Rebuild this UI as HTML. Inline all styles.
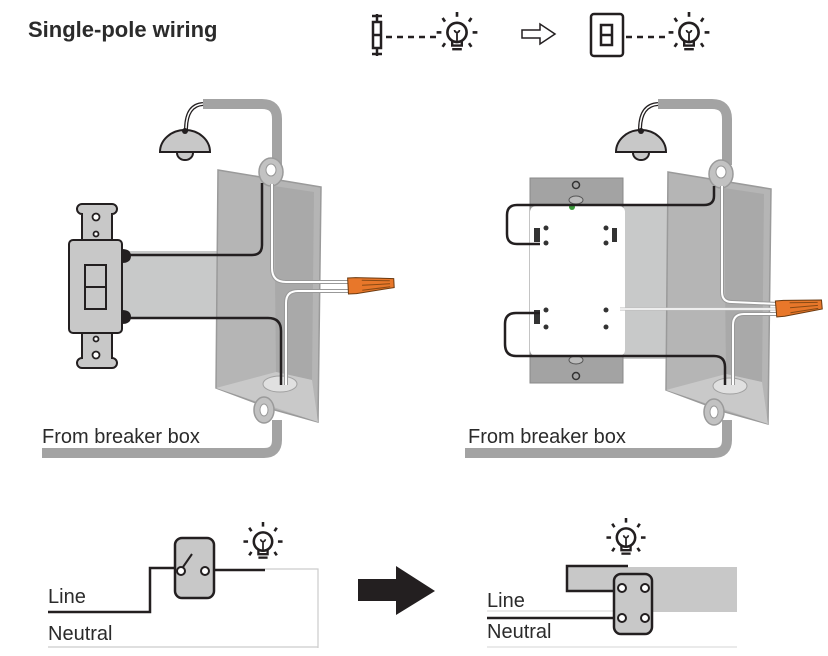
<!DOCTYPE html>
<html><head><meta charset="utf-8"><style>
html,body{margin:0;padding:0;background:#fff;width:828px;height:656px;overflow:hidden}
svg{display:block}
text{font-family:"Liberation Sans",sans-serif;fill:#2b2b2b}
</style></head><body>
<svg width="828" height="656" viewBox="0 0 828 656" xmlns="http://www.w3.org/2000/svg">
<defs>
<g id="bulb">
  <circle cx="0" cy="-3" r="8" fill="#fff" stroke="#231f20" stroke-width="2.2"/>
  <path d="M-4,4 L-4,8 L4,8 L4,4" fill="none" stroke="#231f20" stroke-width="2"/>
  <line x1="-4" y1="11" x2="4" y2="11" stroke="#231f20" stroke-width="2"/>
  <path d="M0,4 L0,-3 M-2,-5 a2,2 0 1,0 4,0" fill="none" stroke="#231f20" stroke-width="1.5"/>
  <g stroke="#231f20" stroke-width="2.2">
    <line x1="0" y1="-20" x2="0" y2="-16"/>
    <line x1="-12" y1="-15" x2="-10" y2="-12"/>
    <line x1="12" y1="-15" x2="10" y2="-12"/>
    <line x1="-17" y1="-3" x2="-13" y2="-3"/>
    <line x1="17" y1="-3" x2="13" y2="-3"/>
    <line x1="-12" y1="9" x2="-10" y2="6"/>
    <line x1="12" y1="9" x2="10" y2="6"/>
  </g>
</g>
<g id="lamp">
  <path d="M-25,0 A25,22 0 0,1 25,0 Z" fill="#c8c8c8" stroke="#231f20" stroke-width="2"/>
  <path d="M-8,1 A8,7 0 0,0 8,1" fill="#c8c8c8" stroke="#231f20" stroke-width="2"/>
  <circle cx="0" cy="-21" r="3" fill="#231f20"/>
</g>
<g id="box">
  <polygon points="0,0 103,17 100,252 57,240 -2,218" fill="#b5b5b5" stroke="#9a9a9a" stroke-width="1.5"/>
  <polygon points="56,16 96,22 94,210 58,202" fill="#a9a9a9"/>
  <polygon points="-2,218 58,202 94,210 100,252" fill="#c9c9c9"/>
  <ellipse cx="53" cy="2" rx="12" ry="14" fill="#c2c2c2" stroke="#9a9a9a" stroke-width="1.5"/>
  <ellipse cx="53" cy="0" rx="5" ry="6" fill="#fff" stroke="#999"/>
  <ellipse cx="46" cy="240" rx="10" ry="13" fill="#c2c2c2" stroke="#9a9a9a" stroke-width="1.5"/>
  <ellipse cx="46" cy="240" rx="4" ry="6" fill="#fff" stroke="#999"/>
  <ellipse cx="62" cy="214" rx="17" ry="8" fill="#e0e0e0" stroke="#a0a0a0"/>
</g>
<g id="nut">
  <polygon points="0,-7 8,-7 46,-4 46,5 8,9 0,9" fill="#e8772a" stroke="#6b3a10" stroke-width="1"/>
  <line x1="14" y1="-4" x2="42" y2="-2" stroke="#8a4a14"/>
  <line x1="14" y1="1" x2="42" y2="1" stroke="#8a4a14"/>
  <line x1="14" y1="6" x2="42" y2="4" stroke="#8a4a14"/>
</g>
</defs>

<!-- Header -->
<text x="28" y="37" font-size="22" font-weight="bold" fill="#222">Single-pole  wiring</text>
<g stroke="#231f20" stroke-width="2.5" fill="none">
  <rect x="373" y="22" width="8" height="26"/>
  <line x1="373" y1="35" x2="381" y2="35"/>
  <line x1="377" y1="14" x2="377" y2="22"/><line x1="377" y1="48" x2="377" y2="56"/>
  <line x1="372" y1="16" x2="382" y2="16"/><line x1="372" y1="54" x2="382" y2="54"/>
  <line x1="386" y1="37" x2="438" y2="37" stroke-dasharray="6,5"/>
  <rect x="591" y="14" width="32" height="42" rx="3"/>
  <rect x="601" y="25" width="11" height="20"/>
  <line x1="601" y1="35" x2="612" y2="35"/>
  <line x1="626" y1="37" x2="670" y2="37" stroke-dasharray="6,5"/>
  <path d="M522,30 L540,30 L540,24 L555,34 L540,44 L540,38 L522,38 Z" stroke-width="1.5"/>
</g>
<use href="#bulb" transform="translate(457,36) scale(1.2)"/>
<use href="#bulb" transform="translate(689,36) scale(1.2)"/>

<!-- Left diagram -->
<path d="M203,104 L262,104 Q277,104 277,119 L277,165" fill="none" stroke="#a3a3a3" stroke-width="10"/>
<path d="M277,420 L277,440 Q277,453 264,453 L42,453" fill="none" stroke="#a3a3a3" stroke-width="10"/>
<path d="M186,130 Q186,105 203,104" fill="none" stroke="#231f20" stroke-width="4"/>
<path d="M186,130 Q186,105 203,104" fill="none" stroke="#fff" stroke-width="1.5"/>
<use href="#lamp" x="185" y="152"/>
<rect x="123" y="251" width="96" height="68" fill="#c8c9c9"/>
<use href="#box" x="218" y="170"/>
<path d="M128,255 L252,255 Q262,255 262,245 L262,183" fill="none" stroke="#231f20" stroke-width="2.5"/>
<path d="M128,318 L268,318 Q281,318 281,331 L281,385" fill="none" stroke="#231f20" stroke-width="2.5"/>
<path d="M272,184 L272,268 Q272,282 286,282 L350,282" fill="none" stroke="#999" stroke-width="4"/>
<path d="M272,184 L272,268 Q272,282 286,282 L350,282" fill="none" stroke="#fff" stroke-width="2"/>
<path d="M350,291 L298,291 Q286,291 286,303 L286,385" fill="none" stroke="#999" stroke-width="4"/>
<path d="M350,291 L298,291 Q286,291 286,303 L286,385" fill="none" stroke="#fff" stroke-width="2"/>
<use href="#nut" x="348" y="285" transform="rotate(-3 348 285)"/>
<!-- switch -->
<g fill="#c8c8c8" stroke="#231f20" stroke-width="2">
  <path d="M82,204 a5,5 0 1,0 0,10 L82,240 L112,240 L112,214 a5,5 0 1,0 0,-10 Z"/>
  <path d="M82,368 a5,5 0 1,1 0,-10 L82,333 L112,333 L112,358 a5,5 0 1,1 0,10 Z"/>
  <rect x="69" y="240" width="53" height="93" rx="4"/>
  <rect x="85" y="265" width="21" height="22" fill="none"/>
  <rect x="85" y="287" width="21" height="22" fill="none"/>
  <path d="M122,250 q8,0 8,6 q0,6 -8,6" fill="#231f20"/>
  <path d="M122,311 q8,0 8,6 q0,6 -8,6" fill="#231f20"/>
</g>
<g fill="#fff" stroke="#231f20" stroke-width="1.8">
  <circle cx="96" cy="217" r="3.5"/><circle cx="96" cy="234" r="2.5"/>
  <circle cx="96" cy="339" r="2.5"/><circle cx="96" cy="355" r="3.5"/>
</g>
<text x="42" y="443" font-size="20">From breaker box</text>

<!-- Right diagram -->
<path d="M658,104 L712,104 Q727,104 727,119 L727,165" fill="none" stroke="#a3a3a3" stroke-width="10"/>
<path d="M727,420 L727,440 Q727,453 714,453 L465,453" fill="none" stroke="#a3a3a3" stroke-width="10"/>
<path d="M640,130 Q640,105 658,104" fill="none" stroke="#231f20" stroke-width="4"/>
<path d="M640,130 Q640,105 658,104" fill="none" stroke="#fff" stroke-width="1.5"/>
<use href="#lamp" x="641" y="152"/>
<rect x="610" y="204" width="62" height="155" fill="#c8c9c9"/>
<use href="#box" x="668" y="172"/>
<rect x="530" y="178" width="93" height="205" fill="#a3a3a3" stroke="#8a8a8a"/>
<rect x="530" y="206" width="95" height="150" rx="6" fill="#fff"/>
<circle cx="576" cy="185" r="3.5" fill="none" stroke="#333" stroke-width="1.5"/>
<circle cx="576" cy="376" r="3.5" fill="none" stroke="#333" stroke-width="1.5"/>
<ellipse cx="576" cy="200" rx="7" ry="4" fill="#bbb" stroke="#555"/>
<ellipse cx="576" cy="360" rx="7" ry="4" fill="#bbb" stroke="#555"/>
<circle cx="572" cy="207" r="3" fill="#3a9a3a"/>
<g fill="#333">
  <rect x="534" y="228" width="6" height="14"/><circle cx="546" cy="228" r="2.5"/><circle cx="546" cy="243" r="2.5"/>
  <rect x="612" y="228" width="5" height="14"/><circle cx="606" cy="228" r="2.5"/><circle cx="606" cy="243" r="2.5"/>
  <rect x="534" y="310" width="6" height="14"/><circle cx="546" cy="310" r="2.5"/><circle cx="546" cy="327" r="2.5"/>
  <circle cx="606" cy="310" r="2.5"/><circle cx="606" cy="327" r="2.5"/>
</g>
<path d="M714,186 L714,196 Q714,205 704,205 L517,205 Q507,205 507,215 L507,234 Q507,244 517,244 L540,244" fill="none" stroke="#231f20" stroke-width="2.5"/>
<path d="M540,313 L516,313 Q505,313 505,324 L505,344 Q505,356 516,356 L714,356 Q725,356 725,367 L725,385" fill="none" stroke="#231f20" stroke-width="2.5"/>
<g fill="none">
  <path d="M722,186 L722,292 Q722,302 732,302 L778,304" stroke="#999" stroke-width="4"/>
  <path d="M722,186 L722,292 Q722,302 732,302 L778,304" stroke="#fff" stroke-width="2"/>
  <path d="M620,309 L778,309" stroke="#bbb" stroke-width="3"/>
  <path d="M620,309 L778,309" stroke="#fff" stroke-width="1.5"/>
  <path d="M778,314 L744,314 Q733,314 733,325 L733,385" stroke="#999" stroke-width="4"/>
  <path d="M778,314 L744,314 Q733,314 733,325 L733,385" stroke="#fff" stroke-width="2"/>
</g>
<use href="#nut" x="776" y="308" transform="rotate(-5 776 308)"/>
<text x="468" y="443" font-size="20">From breaker box</text>

<!-- Bottom left schematic -->
<path d="M265,569 L318,569 L318,648 M48,647 L318,647" fill="none" stroke="#ccc" stroke-width="1.2"/>
<path d="M48,612 L150,612 L150,568 L178,568 M208,570 L265,570" fill="none" stroke="#231f20" stroke-width="2.5"/>
<rect x="175" y="538" width="39" height="60" rx="7" fill="#c8c8c8" stroke="#231f20" stroke-width="2.5"/>
<line x1="183" y1="567" x2="192" y2="554" stroke="#231f20" stroke-width="2"/>
<circle cx="181" cy="571" r="4" fill="#fff" stroke="#231f20" stroke-width="2"/>
<circle cx="205" cy="571" r="4" fill="#fff" stroke="#231f20" stroke-width="2"/>
<use href="#bulb" transform="translate(263,545) scale(1.15)"/>
<text x="48" y="603" font-size="20">Line</text>
<text x="48" y="640" font-size="20">Neutral</text>

<!-- Arrow -->
<polygon points="358,579 396,579 396,566 435,591 396,615 396,601 358,601" fill="#231f20"/>

<!-- Bottom right schematic -->
<rect x="567" y="567" width="170" height="45" fill="#c8c8c8"/>
<rect x="567" y="591" width="46" height="22" fill="#fff"/>
<path d="M487,611 L613,611 M487,647 L737,647" stroke="#ddd" stroke-width="1.2" fill="none"/>
<path d="M628,566 L567,566 L567,591 L617,591 M487,618 L617,618" fill="none" stroke="#231f20" stroke-width="2.5"/>
<rect x="614" y="574" width="38" height="60" rx="7" fill="#c8c8c8" stroke="#231f20" stroke-width="2.5"/>
<g fill="#fff" stroke="#231f20" stroke-width="2">
  <circle cx="622" cy="588" r="4"/><circle cx="645" cy="588" r="4"/>
  <circle cx="622" cy="618" r="4"/><circle cx="645" cy="618" r="4"/>
</g>
<use href="#bulb" transform="translate(626,541) scale(1.15)"/>
<text x="487" y="607" font-size="20">Line</text>
<text x="487" y="638" font-size="20">Neutral</text>
</svg>
</body></html>
